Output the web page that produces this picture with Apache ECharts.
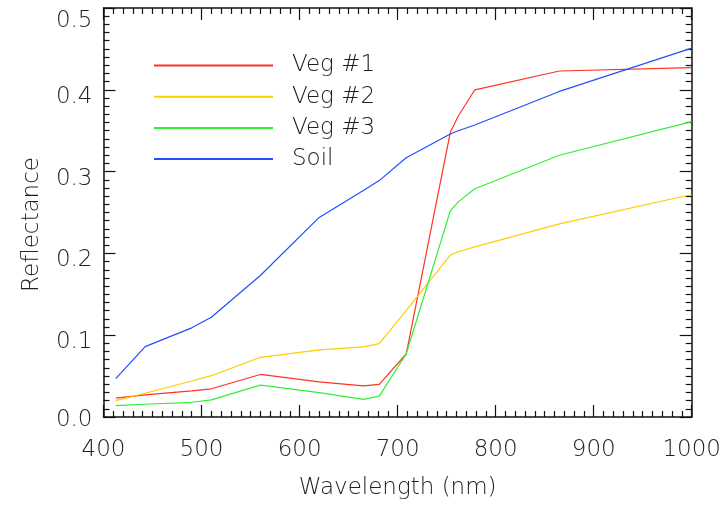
<!DOCTYPE html>
<html>
<head>
<meta charset="utf-8">
<script src="https://cdn.jsdelivr.net/npm/echarts@6/dist/echarts.min.js"></script>
<style>html,body{margin:0;padding:0;background:#fff}#c{width:724px;height:505px}</style>
</head>
<body>
<div id="c"></div>
<script>
var wavelengths = [412.5, 442.5, 490, 510, 560, 620, 665, 681.25, 708.75, 753.75, 761.875, 778.75, 865, 1000];
var veg1 = [0.023, 0.027, 0.032, 0.0345, 0.052, 0.043, 0.038, 0.040, 0.077, 0.348, 0.368, 0.400, 0.423, 0.427];
var veg2 = [0.020, 0.029, 0.044, 0.0505, 0.073, 0.082, 0.0857, 0.0897, 0.130, 0.198, 0.202, 0.208, 0.236, 0.272];
var veg3 = [0.014, 0.0156, 0.018, 0.021, 0.039, 0.0297, 0.0216, 0.0256, 0.077, 0.252, 0.263, 0.279, 0.320, 0.361];
var soil = [0.047, 0.086, 0.109, 0.122, 0.173, 0.244, 0.277, 0.289, 0.317, 0.346, 0.350, 0.357, 0.398, 0.451];
var seriesNames = ['Veg #1', 'Veg #2', 'Veg #3', 'Soil'];
var seriesColors = ['#ff3322', '#ffcc00', '#33ee33', '#1f4fff'];
var xTitle = 'Wavelength (nm)';
var yTitle = 'Reflectance';

var FONT = '"DejaVu Sans", sans-serif';
function pairs(vals){ return wavelengths.map(function(w,i){ return [w, vals[i]]; }); }
var allVals = [veg1, veg2, veg3, soil];

var chart = echarts.init(document.getElementById('c'), null, {renderer:'canvas'});
var axisLineStyle = {color:'#111', width:1.5};
var tickCommon = {show:true, inside:true, length:12, lineStyle:{color:'#111', width:1.2}};
var minorCommon = {show:true, splitNumber:10, length:6, lineStyle:{color:'#111', width:1.2}};
var txt = {fontFamily:FONT, fontSize:23, fontWeight:200, color:'#222'};
chart.setOption({
  animation:false,
  backgroundColor:'#fff',
  grid:{left:103.5, right:32, top:8, bottom:81, containLabel:false},
  legend:{
    show:true,
    orient:'vertical', left:148, top:49,
    itemWidth:119, itemHeight:2, itemGap:8.2,
    itemStyle:{opacity:0},
    textStyle:{fontFamily:FONT, fontSize:23, fontWeight:200, color:'#222', padding:[0,0,0,14]},
    data:seriesNames
  },
  xAxis:[{
    type:'value', min:400, max:1000, interval:100, position:'bottom',
    axisLine:{show:true, onZero:false, lineStyle:axisLineStyle},
    axisTick:tickCommon, minorTick:minorCommon,
    splitLine:{show:false},
    axisLabel:Object.assign({margin:22, formatter:function(v){ return String(v); }}, txt),
    name:xTitle, nameLocation:'middle', nameGap:60,
    nameTextStyle:txt
  },{
    type:'value', min:400, max:1000, interval:100, position:'top',
    axisLine:{show:true, onZero:false, lineStyle:axisLineStyle},
    axisTick:tickCommon, minorTick:minorCommon,
    splitLine:{show:false}, axisLabel:{show:false}
  }],
  yAxis:[{
    type:'value', min:0, max:0.5, interval:0.1, position:'left',
    axisLine:{show:true, onZero:false, lineStyle:axisLineStyle},
    axisTick:tickCommon, minorTick:minorCommon,
    splitLine:{show:false},
    axisLabel:Object.assign({margin:11,
      formatter:function(v){ if (v===0) return '{z|0.0}'; if (Math.abs(v-0.5)<1e-9) return '{t|0.5}'; return '{m|' + v.toFixed(1) + '}'; },
      rich:{z:Object.assign({padding:[6,0,0,0]}, txt), t:Object.assign({padding:[26,0,0,0]}, txt), m:Object.assign({padding:[14,0,0,0]}, txt)}}, txt),
    name:yTitle, nameLocation:'middle', nameGap:60,
    nameTextStyle:Object.assign({padding:[0,24,0,0]}, txt)
  },{
    type:'value', min:0, max:0.5, interval:0.1, position:'right',
    axisLine:{show:true, onZero:false, lineStyle:axisLineStyle},
    axisTick:tickCommon, minorTick:minorCommon,
    splitLine:{show:false}, axisLabel:{show:false}
  }],
  series: seriesNames.map(function(n,i){
    return {name:n, type:'line', data:pairs(allVals[i]), showSymbol:false, symbol:'none',
      lineStyle:{color:seriesColors[i], width:1.2}, itemStyle:{color:seriesColors[i]},
      clip:true, z:2};
  })
});
</script>
</body>
</html>
